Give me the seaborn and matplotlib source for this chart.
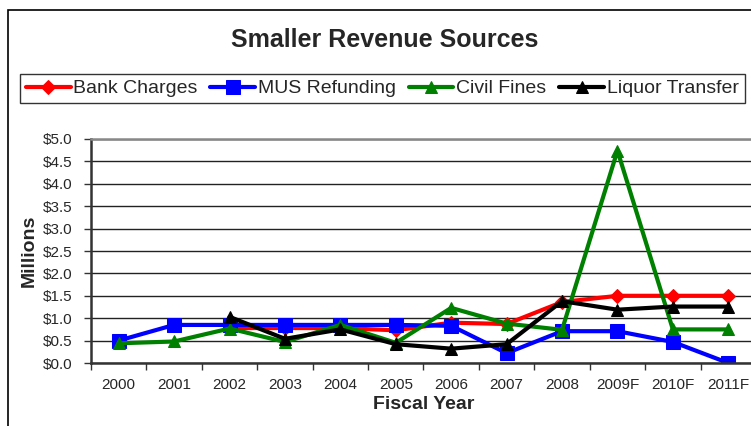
import numpy as np
import pandas as pd
import matplotlib.pyplot as plt
import seaborn as sns
from matplotlib.patches import Rectangle
from matplotlib.ticker import FixedLocator, FuncFormatter

# Chart data (millions of dollars)
years = ['2000', '2001', '2002', '2003', '2004', '2005', '2006',
         '2007', '2008', '2009F', '2010F', '2011F']
bank_charges = [np.nan, np.nan, 0.78, 0.78, 0.78, 0.73, 0.90, 0.87, 1.36, 1.50, 1.50, 1.50]
mus_refunding = [0.50, 0.85, 0.85, 0.85, 0.85, 0.85, 0.83, 0.22, 0.71, 0.71, 0.47, 0.0]
civil_fines = [0.44, 0.48, 0.77, 0.47, 0.85, 0.45, 1.23, 0.88, 0.74, 4.74, 0.75, 0.75]
liquor_transfer = [np.nan, np.nan, 1.03, 0.54, 0.75, 0.42, 0.32, 0.42, 1.38, 1.19, 1.26, 1.26]

series = [
    ('Bank Charges', bank_charges, 'red', 'D', 7),
    ('MUS Refunding', mus_refunding, 'blue', 's', 10),
    ('Civil Fines', civil_fines, 'green', '^', 9),
    ('Liquor Transfer', liquor_transfer, 'black', '^', 9),
]

sns.set_style('white')
plt.rcParams['font.family'] = ['Liberation Sans', 'DejaVu Sans']

fig = plt.figure(figsize=(7.51, 4.26), dpi=100)
ax = fig.add_axes([91 / 751, 1 - 363 / 426, 665 / 751, 224 / 426])

pos = np.arange(len(years))
for name, vals, color, marker, ms in series:
    df = pd.DataFrame({'pos': pos, 'value': vals}).dropna()
    sns.lineplot(data=df, x='pos', y='value', ax=ax, color=color, marker=marker,
                 markersize=ms, markeredgecolor=color, linewidth=3, label=name,
                 legend=False)

ax.set_xlim(-0.5, len(years) - 0.5)
ax.set_ylim(0, 5.0)
ax.set_yticks(np.arange(0, 5.01, 0.5))
ax.yaxis.set_major_formatter(FuncFormatter(lambda v, p: f'${v:.1f}'))
ax.set_xticks(pos)
ax.set_xticklabels(years)
ax.xaxis.set_minor_locator(FixedLocator(np.arange(-0.5, len(years), 1.0)))
ax.tick_params(axis='x', which='major', length=0, pad=11, labelsize=11)
ax.tick_params(axis='x', which='minor', length=5, width=1, direction='out', color='#333333', bottom=True)
ax.tick_params(axis='y', length=5, width=1, direction='out', color='#333333', left=True, labelsize=11, pad=8)

ax.grid(axis='y', color='#222222', linewidth=1)
ax.set_axisbelow(True)
for side in ['left', 'bottom']:
    ax.spines[side].set_color('#333333')
    ax.spines[side].set_linewidth(1.8)
ax.spines['top'].set_color('#888888')
ax.spines['top'].set_linewidth(1.8)
ax.spines['right'].set_visible(False)

ax.set_xlabel('Fiscal Year', fontsize=14, fontweight='bold', labelpad=3)
ax.set_ylabel('Millions', fontsize=14, fontweight='bold', labelpad=4)

fig.text(385 / 751, 1 - 40 / 426, 'Smaller Revenue Sources', ha='center', va='center',
         fontsize=18, fontweight='bold')

handles, labels = ax.get_legend_handles_labels()
leg = fig.legend(handles, labels, loc='upper left', bbox_to_anchor=(20 / 751, 1 - 74 / 426),
                 ncol=4, fontsize=14, frameon=True, fancybox=False, handlelength=2.3,
                 handletextpad=0.15, columnspacing=0.65, borderpad=0.3, borderaxespad=0)
leg.get_frame().set_edgecolor('black')
leg.get_frame().set_linewidth(1)

# outer chart border
fig.patches.append(Rectangle((8 / 751, -0.1), 1.0, 1 - 10 / 426 + 0.1, transform=fig.transFigure,
                             fill=False, edgecolor='black', linewidth=1.2))

fig.savefig('out.png', dpi=100)
